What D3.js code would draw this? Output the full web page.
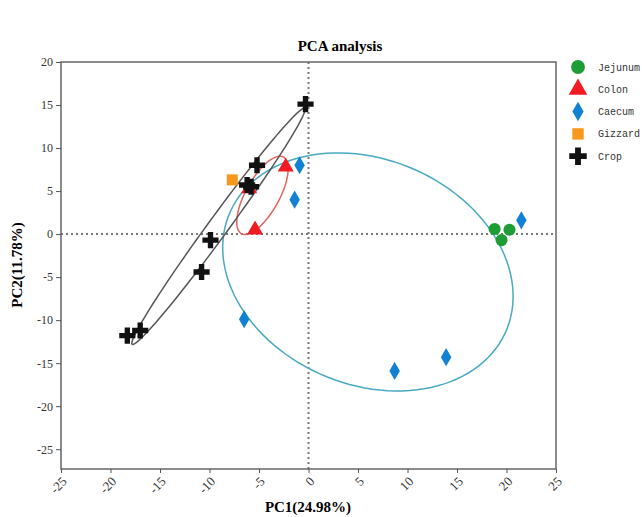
<!DOCTYPE html>
<html>
<head>
<meta charset="utf-8">
<script src="https://cdn.jsdelivr.net/npm/d3@7"></script>
<style>
  body { margin: 0; background: #fff; }
  svg text { font-family: "Liberation Serif", "Times New Roman", serif; }
</style>
</head>
<body>
<script>
// groups, in legend order
var groups = ["Jejunum", "Colon", "Caecum", "Gizzard", "Crop"];
var colors = ["#1e9c36", "#f21b24", "#1381d3", "#f7981d", "#111111"];

// sample scores: [PC1, PC2]
var jejunum = [[18.8, 0.6], [20.3, 0.5], [19.5, -0.7]];
var colon = [[-6.0, 5.3], [-2.3, 7.8], [-5.4, 0.5]];
var caecum = [[-0.9, 8.0], [-1.4, 4.0], [21.5, 1.6], [-6.5, -9.9], [8.7, -15.9], [13.9, -14.3]];
var gizzard = [[-7.7, 6.3]];
var crop = [[-0.3, 15.1], [-5.2, 8.0], [-6.2, 5.7], [-5.8, 5.5], [-9.9, -0.7], [-10.8, -4.4], [-18.3, -11.8], [-17.0, -11.2]];

// confidence ellipses: center x, center y, semi-axis a, semi-axis b, angle (deg), all in data units
var ellipses = [
  {group: "Caecum", cx: 6.0, cy: -4.4, a: 15.7, b: 12.65, angle: -37, color: "#48a9c0"},
  {group: "Colon", cx: -4.65, cy: 4.5, a: 4.93, b: 1.75, angle: 65.4, color: "#e0645f"},
  {group: "Crop", cx: -9.1, cy: 0.9, a: 16.25, b: 1.05, angle: 57.6, color: "#555555"}
];

var xTicks = [-25, -20, -15, -10, -5, 0, 5, 10, 15, 20, 25];
var yTicks = [20, 15, 10, 5, 0, -5, -10, -15, -20, -25];

var width = 642, height = 517;
var plot = {left: 61, right: 556, top: 62, bottom: 469};

var svg = d3.select("body").append("svg")
  .attr("width", width)
  .attr("height", height);

var xScale = d3.scaleLinear().domain([-25, 25]).range([plot.left, plot.right]);
var yScale = d3.scaleLinear().domain([-27.3, 20]).range([plot.bottom, plot.top]);

var shapes = {
  Jejunum: d3.symbolCircle,
  Colon: d3.symbolTriangle,
  Caecum: d3.symbolDiamond,
  Gizzard: d3.symbolSquare,
  Crop: d3.symbolCross
};
var sizes = { Jejunum: 115, Colon: 112, Caecum: 95, Gizzard: 121, Crop: 145 };
var legendSizes = { Jejunum: 150, Colon: 150, Caecum: 110, Gizzard: 130, Crop: 170 };
var colorOf = d3.scaleOrdinal().domain(groups).range(colors);

// title
svg.append("text")
  .attr("x", 340).attr("y", 51)
  .attr("text-anchor", "middle")
  .style("font-size", "15px").style("font-weight", "bold")
  .text("PCA analysis");

// zero lines
svg.append("line")
  .attr("x1", xScale(0)).attr("x2", xScale(0)).attr("y1", plot.top).attr("y2", plot.bottom)
  .attr("stroke", "#777").attr("stroke-width", 2).attr("stroke-dasharray", "2,3");
svg.append("line")
  .attr("x1", plot.left).attr("x2", plot.right).attr("y1", yScale(0)).attr("y2", yScale(0))
  .attr("stroke", "#777").attr("stroke-width", 2).attr("stroke-dasharray", "2,3");

// ellipses
var line = d3.line().x(d => xScale(d[0])).y(d => yScale(d[1]));
ellipses.forEach(function(e) {
  var phi = e.angle * Math.PI / 180;
  var pts = d3.range(0, 361, 3).map(function(t) {
    var th = t * Math.PI / 180;
    var u = e.a * Math.cos(th), v = e.b * Math.sin(th);
    return [e.cx + u * Math.cos(phi) - v * Math.sin(phi),
            e.cy + u * Math.sin(phi) + v * Math.cos(phi)];
  });
  svg.append("path")
    .attr("d", line(pts))
    .attr("fill", "none")
    .attr("stroke", e.color)
    .attr("stroke-width", 1.5);
});

// frame
svg.append("rect")
  .attr("x", plot.left).attr("y", plot.top)
  .attr("width", plot.right - plot.left).attr("height", plot.bottom - plot.top)
  .attr("fill", "none").attr("stroke", "#666").attr("stroke-width", 1.5);

// axes
var xAxis = svg.append("g")
  .attr("transform", "translate(0," + plot.bottom + ")")
  .call(d3.axisBottom(xScale).tickValues(xTicks).tickFormat(d => String(d)).tickSize(4).tickSizeOuter(0));
xAxis.selectAll("text")
  .attr("x", 0).attr("y", 0)
  .attr("dy", "0.35em")
  .attr("text-anchor", "end")
  .attr("transform", "translate(3,10) rotate(-45)")
  .style("font-size", "13px").style("fill", "#333");

var yAxis = svg.append("g")
  .attr("transform", "translate(" + plot.left + ",0)")
  .call(d3.axisLeft(yScale).tickValues(yTicks).tickFormat(d => String(d)).tickSize(5).tickSizeOuter(0));
yAxis.selectAll("text").style("font-size", "12px").style("fill", "#333");

[xAxis, yAxis].forEach(function(g) {
  g.select(".domain").remove();
  g.selectAll("line").attr("stroke", "#555");
  g.selectAll("text").style("font-family", "Liberation Serif, serif");
});

// axis titles
svg.append("text")
  .attr("x", 308).attr("y", 512)
  .attr("text-anchor", "middle")
  .style("font-size", "15px").style("font-weight", "bold")
  .text("PC1(24.98%)");
svg.append("text")
  .attr("transform", "translate(22,265) rotate(-90)")
  .attr("text-anchor", "middle")
  .style("font-size", "15px").style("font-weight", "bold")
  .text("PC2(11.78%)");

// points
var series = { Jejunum: jejunum, Colon: colon, Caecum: caecum, Gizzard: gizzard, Crop: crop };
["Caecum", "Colon", "Gizzard", "Crop", "Jejunum"].forEach(function(g) {
  svg.append("g").selectAll("path")
    .data(series[g])
    .enter().append("path")
    .attr("d", d3.symbol().type(shapes[g]).size(sizes[g]))
    .attr("transform", d => "translate(" + xScale(d[0]) + "," + yScale(d[1]) + ")")
    .attr("fill", colorOf(g));
});

// legend
var legend = svg.selectAll(".legend")
  .data(groups)
  .enter().append("g")
  .attr("class", "legend")
  .attr("transform", (d, i) => "translate(578," + (67 + i * 22.3) + ")");

legend.append("path")
  .attr("d", d => d3.symbol().type(shapes[d]).size(legendSizes[d])())
  .attr("fill", d => colorOf(d));

legend.append("text")
  .attr("x", 20).attr("dy", "0.35em")
  .style("font-family", "Liberation Mono, monospace")
  .style("font-size", "10px")
  .style("fill", "#333")
  .text(d => d);
</script>
</body>
</html>
